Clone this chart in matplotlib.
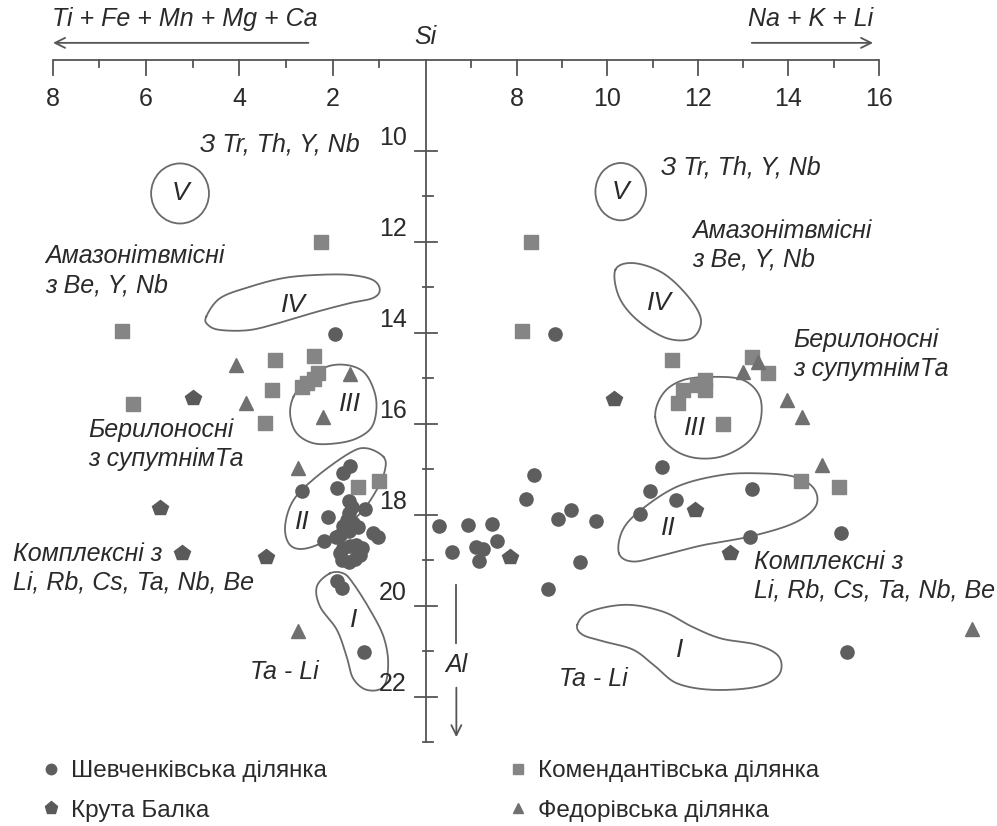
import numpy as np
import matplotlib
matplotlib.use("Agg")
import matplotlib.pyplot as plt
from matplotlib.lines import Line2D
from matplotlib.patches import Ellipse
from matplotlib import font_manager

plt.rcParams['font.family'] = ['Liberation Sans', 'DejaVu Sans']

# ------------------------------------------------------------------ data
# left half: x = Ti + Fe + Mn + Mg + Ca ; right half: x = Na + K + Li ; y = Si
shev_left_x = [1.95, 2.66, 1.63, 1.77, 1.91, 1.66, 1.59, 1.64, 2.09, 1.31, 1.69, 1.77,
               1.56, 1.45, 1.66, 1.84, 1.93, 2.19, 1.13, 1.02, 1.77, 1.63, 1.49, 1.38,
               1.41, 1.52, 1.66, 1.81, 1.84, 1.91, 1.81, 1.32]
shev_left_si = [14.03, 17.47, 16.93, 17.09, 17.42, 17.69, 17.82, 17.96, 18.04, 17.88, 18.12, 18.25,
                18.19, 18.26, 18.35, 18.45, 18.48, 18.57, 18.41, 18.50, 18.74, 18.69, 18.67, 18.74,
                18.89, 18.98, 19.03, 19.00, 18.85, 19.45, 19.62, 21.01]
shev_right_x = [8.84, 6.29, 6.93, 7.46, 6.57, 7.10, 7.26, 7.56, 7.18, 8.39, 8.21, 8.91,
                9.20, 9.75, 9.39, 8.70, 11.21, 10.94, 11.52, 10.73, 13.19, 13.16, 15.17, 15.30]
shev_right_si = [14.03, 18.25, 18.23, 18.20, 18.83, 18.70, 18.76, 18.58, 19.01, 17.13, 17.66, 18.09,
                 17.90, 18.13, 19.03, 19.64, 16.96, 17.48, 17.68, 17.98, 17.44, 18.50, 18.40, 21.01]

kom_left_x = [2.26, 6.51, 3.24, 2.40, 2.31, 2.41, 2.56, 2.66, 3.30, 6.27, 3.45, 1.45, 1.00]
kom_left_si = [12.01, 13.96, 14.60, 14.52, 14.89, 15.02, 15.11, 15.20, 15.26, 15.57, 15.99, 17.40, 17.25]
kom_right_x = [8.32, 8.13, 11.43, 13.20, 13.55, 11.67, 11.57, 11.98, 12.16, 12.16, 12.56, 14.28, 15.12]
kom_right_si = [12.01, 13.96, 14.61, 14.53, 14.88, 15.26, 15.55, 15.15, 15.04, 15.26, 16.00, 17.26, 17.40]

fed_left_x = [4.08, 3.86, 1.63, 2.20, 2.75, 2.75]
fed_left_si = [14.70, 15.54, 14.90, 15.85, 16.98, 20.55]
fed_right_x = [12.99, 13.32, 13.98, 14.29, 14.75, 18.05]
fed_right_si = [14.86, 14.64, 15.49, 15.85, 16.91, 20.52]

kb_left_x = [5.00, 5.70, 5.22, 3.43]
kb_left_si = [15.44, 17.86, 18.85, 18.92]
kb_right_x = [7.85, 10.15, 11.94, 12.72]
kb_right_si = [18.92, 15.46, 17.89, 18.85]

# field outlines (left half)
fieldV_left = dict(x=5.27, si=10.94, w=1.24, h=1.32)
fieldIV_left_x = [4.71, 4.41, 3.77, 3.06, 2.34, 1.63, 1.14, 0.99, 1.14, 1.63, 2.34, 3.06, 3.77, 4.41, 4.67]
fieldIV_left_si = [13.65, 13.24, 12.99, 12.80, 12.73, 12.73, 12.84, 13.06, 13.24, 13.35, 13.54, 13.76, 13.94, 13.94, 13.83]
fieldIII_left_x = [2.84, 2.56, 2.13, 1.70, 1.34, 1.13, 1.06, 1.16, 1.48, 1.91, 2.41, 2.77, 2.91]
fieldIII_left_si = [15.41, 15.04, 14.75, 14.71, 14.86, 15.22, 15.63, 16.07, 16.32, 16.43, 16.43, 16.21, 15.81]
fieldII_left_x = [0.91, 1.27, 1.63, 2.34, 2.84, 3.02, 2.91, 2.56, 1.99, 1.41, 1.06, 0.88]
fieldII_left_si = [16.73, 16.54, 16.64, 17.16, 17.68, 18.26, 18.67, 18.74, 18.48, 17.97, 17.46, 17.02]
fieldI_left_x = [2.06, 2.34, 2.27, 1.91, 1.70, 1.56, 1.27, 0.91, 0.81, 0.91, 1.20, 1.56, 1.77]
fieldI_left_si = [19.29, 19.58, 20.02, 20.53, 21.12, 21.60, 21.85, 21.78, 21.27, 20.68, 20.09, 19.51, 19.29]

# field outlines (right half)
fieldV_right = dict(x=10.30, si=10.90, w=1.12, h=1.26)
fieldIV_right_x = [10.18, 10.58, 11.23, 11.79, 12.07, 11.87, 11.31, 10.66, 10.26]
fieldIV_right_si = [12.62, 12.47, 12.69, 13.21, 13.72, 14.12, 14.12, 13.72, 13.21]
fieldIII_right_x = [11.06, 11.24, 11.68, 12.34, 13.00, 13.37, 13.37, 13.08, 12.49, 11.83, 11.31]
fieldIII_right_si = [15.85, 15.33, 15.04, 14.97, 15.04, 15.41, 15.99, 16.43, 16.73, 16.73, 16.43]
fieldII_right_x = [10.26, 10.34, 10.74, 11.55, 12.51, 13.31, 14.11, 14.56, 14.60, 14.11, 13.15, 12.11, 11.23, 10.58]
fieldII_right_si = [18.85, 18.34, 17.90, 17.38, 17.13, 17.09, 17.16, 17.42, 17.82, 18.19, 18.48, 18.67, 18.89, 19.03]
fieldI_right_x = [9.34, 9.62, 10.42, 11.23, 11.87, 12.51, 13.31, 13.79, 13.79, 13.31, 12.35, 11.55, 11.07, 10.58, 9.94, 9.46]
fieldI_right_si = [20.42, 20.13, 19.98, 20.13, 20.46, 20.72, 20.86, 21.12, 21.52, 21.78, 21.85, 21.71, 21.34, 20.97, 20.79, 20.64]

# axes ticks
left_major = [2, 4, 6, 8]
left_minor = [1, 3, 5, 7]
right_major = [8, 10, 12, 14, 16]
right_minor = [7, 9, 11, 13, 15]
si_major = [10, 12, 14, 16, 18, 20, 22]
si_minor = [11, 13, 15, 17, 19, 21, 23]

legend_labels = ['Шевченківська ділянка', 'Крута Балка', 'Комендантівська ділянка', 'Федорівська ділянка']

# ------------------------------------------------------------------ styling
TXT = '#2a2a2a'
AXC = '#555555'
LINEC = '#6a6a6a'
C_SHEV = '#5e5e5e'
C_KOM = '#858585'
C_FED = '#707070'
C_KB = '#5a5a5a'

W, H = 997, 826
CX = 426
L_PX, R_PX, S_PX = 46.67, 45.3, 45.5

fig = plt.figure(figsize=(W / 100, H / 100), dpi=100)
fig.patch.set_facecolor('white')
axL = fig.add_axes([0, 0, CX / W, 1])
axR = fig.add_axes([CX / W, 0, 1 - CX / W, 1])
axL.set_xlim(CX / L_PX, 0)
axR.set_xlim(6, 6 + (W - CX) / R_PX)
si_top = 10 - 150.7 / S_PX
si_bot = 10 + (H - 150.7) / S_PX
for ax in (axL, axR):
    ax.set_ylim(si_bot, si_top)
    ax.axis('off')

TICKFS = 18
ITFS = 18

# ---- axes lines
axL.plot([8, 0], [8, 8], color=AXC, lw=1.3, clip_on=False, solid_capstyle='butt')
axR.plot([6, 16], [8, 8], color=AXC, lw=1.3, clip_on=False, solid_capstyle='butt')
axL.plot([0, 0], [8, 23], color=AXC, lw=1.3, clip_on=False)
for v in left_major:
    axL.plot([v, v], [8, 8.33], color=AXC, lw=1.3)
    axL.text(v, 8.86, str(v), ha='center', va='center', fontsize=TICKFS, color=TXT)
for v in left_minor:
    axL.plot([v, v], [8, 8.17], color=AXC, lw=1.3)
for v in right_major:
    axR.plot([v, v], [8, 8.33], color=AXC, lw=1.3)
    axR.text(v, 8.86, str(v), ha='center', va='center', fontsize=TICKFS, color=TXT)
for v in right_minor:
    axR.plot([v, v], [8, 8.17], color=AXC, lw=1.3)
for s in si_major:
    axL.plot([0.24, -0.24], [s, s], color=AXC, lw=1.3, clip_on=False)
    axL.text(0.41, s - 0.27, str(s), ha='right', va='center', fontsize=TICKFS, color=TXT)
for s in si_minor:
    axL.plot([0.07, -0.16], [s, s], color=AXC, lw=1.3, clip_on=False)

# header texts and arrows
axL.text(8.01, 7.1, 'Ti + Fe + Mn + Mg + Ca', ha='left', va='center', fontsize=ITFS,
         style='italic', color=TXT)
axL.annotate('', xy=(8.05, 7.63), xytext=(2.46, 7.63),
             arrowprops=dict(arrowstyle='->', color=AXC, lw=1.3, mutation_scale=18))
axL.text(0.02, 7.5, 'Si', ha='center', va='center', fontsize=ITFS, style='italic', color=TXT)
axR.text(13.11, 7.1, 'Na + K + Li', ha='left', va='center', fontsize=ITFS,
         style='italic', color=TXT)
axR.annotate('', xy=(15.93, 7.63), xytext=(13.13, 7.63),
             arrowprops=dict(arrowstyle='->', color=AXC, lw=1.3, mutation_scale=18))

# Al arrow
axR.plot([6.67, 6.67], [19.55, 20.82], color=AXC, lw=1.3)
axR.annotate('', xy=(6.67, 22.95), xytext=(6.67, 21.74),
             arrowprops=dict(arrowstyle='->', color=AXC, lw=1.3, mutation_scale=18))
axR.text(6.67, 21.3, 'Al', ha='center', va='center', fontsize=ITFS, style='italic', color=TXT)


# ---- field outlines
def closed_curve(xs, ys, n=24):
    P = np.column_stack([xs, ys]).astype(float)
    m = len(P)
    t = np.linspace(0, 1, n, endpoint=False)[:, None]
    segs = []
    for i in range(m):
        p0, p1, p2, p3 = P[(i - 1) % m], P[i], P[(i + 1) % m], P[(i + 2) % m]
        seg = 0.5 * ((2 * p1) + (-p0 + p2) * t + (2 * p0 - 5 * p1 + 4 * p2 - p3) * t ** 2
                     + (-p0 + 3 * p1 - 3 * p2 + p3) * t ** 3)
        segs.append(seg)
    out = np.vstack(segs + [P[:1]])
    return out[:, 0], out[:, 1]


for ax, xs, ys in [(axL, fieldIV_left_x, fieldIV_left_si), (axL, fieldIII_left_x, fieldIII_left_si),
                   (axL, fieldII_left_x, fieldII_left_si), (axL, fieldI_left_x, fieldI_left_si),
                   (axR, fieldIV_right_x, fieldIV_right_si), (axR, fieldIII_right_x, fieldIII_right_si),
                   (axR, fieldII_right_x, fieldII_right_si), (axR, fieldI_right_x, fieldI_right_si)]:
    cx, cy = closed_curve(xs, ys)
    ax.plot(cx, cy, color=LINEC, lw=1.3, zorder=2)

for ax, f in [(axL, fieldV_left), (axR, fieldV_right)]:
    ax.add_patch(Ellipse((f['x'], f['si']), f['w'], f['h'], fill=False, ec=LINEC, lw=1.3))

# ---- points
mk = dict(ls='none', zorder=3)
for ax, x, y in [(axL, shev_left_x, shev_left_si), (axR, shev_right_x, shev_right_si)]:
    ax.plot(x, y, marker='o', ms=9.5, color=C_SHEV, mec=C_SHEV, **mk)
for ax, x, y in [(axL, kom_left_x, kom_left_si), (axR, kom_right_x, kom_right_si)]:
    ax.plot(x, y, marker='s', ms=10, color=C_KOM, mec=C_KOM, **mk)
for ax, x, y in [(axL, fed_left_x, fed_left_si), (axR, fed_right_x, fed_right_si)]:
    ax.plot(x, y, marker='^', ms=10, color=C_FED, mec=C_FED, **mk)
for ax, x, y in [(axL, kb_left_x, kb_left_si), (axR, kb_right_x, kb_right_si)]:
    ax.plot(x, y, marker='p', ms=11.5, color=C_KB, mec=C_KB, **mk)

# ---- field labels and annotations
tk = dict(fontsize=ITFS, style='italic', color=TXT, va='center', linespacing=1.25)
axL.text(4.84, 9.87, 'З Tr, Th, Y, Nb', ha='left', **tk)
axL.text(8.16, 12.64, 'Амазонітвмісні\nз Be, Y, Nb', ha='left', **tk)
axL.text(7.24, 16.45, 'Берилоносні\nз супутнімТа', ha='left', **tk)
axL.text(8.85, 19.17, 'Комплексні з\nLi, Rb, Cs, Ta, Nb, Be', ha='left', **tk)
axL.text(3.77, 21.45, 'Ta - Li', ha='left', **tk)
axR.text(11.19, 10.36, 'З Tr, Th, Y, Nb', ha='left', **tk)
axR.text(11.87, 12.07, 'Амазонітвмісні\nз Be, Y, Nb', ha='left', **tk)
axR.text(14.11, 14.48, 'Берилоносні\nз супутнімТа', ha='left', **tk)
axR.text(13.23, 19.36, 'Комплексні з\nLi, Rb, Cs, Ta, Nb, Be', ha='left', **tk)
axR.text(8.94, 21.60, 'Ta - Li', ha='left', **tk)

rk = dict(fontsize=19, style='italic', color=TXT, ha='center', va='center')
for ax, x, y, s in [(axL, 5.27, 10.93, 'V'), (axL, 2.85, 13.39, 'IV'), (axL, 1.63, 15.57, 'III'),
                    (axL, 2.64, 18.15, 'II'), (axL, 1.56, 20.31, 'I'),
                    (axR, 10.30, 10.90, 'V'), (axR, 11.16, 13.35, 'IV'), (axR, 11.94, 16.10, 'III'),
                    (axR, 11.35, 18.30, 'II'), (axR, 11.59, 20.97, 'I')]:
    ax.text(x, y, s, **rk)

# ---- legend
names = {f.name for f in font_manager.fontManager.ttflist}
if 'Liberation Sans Narrow' in names:
    leg_prop = {'family': 'Liberation Sans Narrow', 'size': 20}
else:
    leg_prop = {'family': 'Liberation Sans', 'size': 17.5}
h_shev = Line2D([], [], marker='o', ms=7.5, ls='none', color=C_SHEV)
h_kb = Line2D([], [], marker='p', ms=9.5, ls='none', color=C_KB)
h_kom = Line2D([], [], marker='s', ms=7.5, ls='none', color=C_KOM)
h_fed = Line2D([], [], marker='^', ms=7.5, ls='none', color=C_FED)
lk = dict(frameon=False, loc='center left', handlelength=0.8, handletextpad=0.45,
          labelspacing=0.7, borderpad=0.2, borderaxespad=0, prop=leg_prop, labelcolor=TXT)
fig.legend([h_shev, h_kb], legend_labels[:2], bbox_to_anchor=(36 / W, 1 - 791 / H), **lk)
fig.legend([h_kom, h_fed], legend_labels[2:], bbox_to_anchor=(503 / W, 1 - 791 / H), **lk)

fig.savefig('out.png', dpi=100, facecolor='white')
